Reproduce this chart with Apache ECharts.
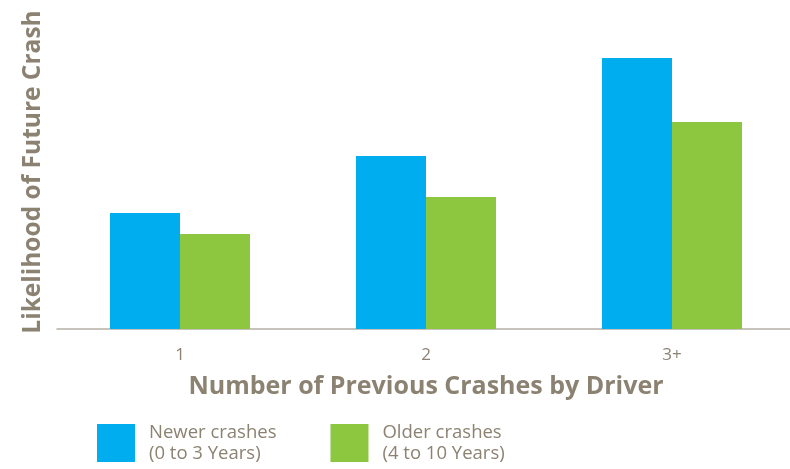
<!DOCTYPE html>
<html><head><meta charset="utf-8">
<script src="https://cdn.jsdelivr.net/npm/echarts@6/dist/echarts.min.js"></script>
<style>html,body{margin:0;padding:0;background:#fff}#c{width:790px;height:469px}</style>
</head><body><div id="c"></div>
<script>
const categories = ['1', '2', '3+'];
const newerCrashes = [116, 173, 271];
const olderCrashes = [95, 132, 207];
const seriesNames = ['Newer crashes\n(0 to 3 Years)', 'Older crashes\n(4 to 10 Years)'];

const chart = echarts.init(document.getElementById('c'));
const txt = '#8b8272';
const ff = 'Open Sans';
chart.setOption({
  animation: false,
  textStyle: { fontFamily: ff },
  grid: { left: 57, width: 738, top: 29, height: 300, outerBoundsMode: 'none', containLabel: false },
  legend: {
    left: 92, top: 417, itemWidth: 38, itemHeight: 38, itemGap: 54,
    icon: 'rect',
    textStyle: { color: txt, fontSize: 18.5, lineHeight: 21, fontFamily: ff, padding: [0,0,0,9] },
    data: seriesNames
  },
  xAxis: {
    type: 'category', data: categories,
    axisLine: { lineStyle: { color: '#b5afa5', width: 1.5 } },
    axisTick: { length: 7, lineStyle: { color: '#b5afa5', width: 1.5 }, interval: (i) => i !== 0 },
    axisLabel: { color: txt, fontSize: 17, margin: 18 },
    name: 'Number of Previous Crashes by Driver', nameLocation: 'middle', nameGap: 45,
    nameTextStyle: { color: txt, fontSize: 25, fontWeight: 'bold' }
  },
  yAxis: {
    type: 'value', min: 0, max: 300,
    axisLine: { show: false }, axisTick: { show: false }, axisLabel: { show: false }, splitLine: { show: false },
    name: 'Likelihood of Future Crash', nameLocation: 'middle', nameGap: 11,
    nameTextStyle: { color: txt, fontSize: 24.5, fontWeight: 'bold', padding: [0, 0, 0, 14] }
  },
  series: [
    { name: seriesNames[0], type: 'bar', data: newerCrashes, barWidth: 70, barGap: '0%', itemStyle: { color: '#00aeef' } },
    { name: seriesNames[1], type: 'bar', data: olderCrashes, barWidth: 70, barGap: '0%', itemStyle: { color: '#8dc63f' } }
  ]
});
</script></body></html>
